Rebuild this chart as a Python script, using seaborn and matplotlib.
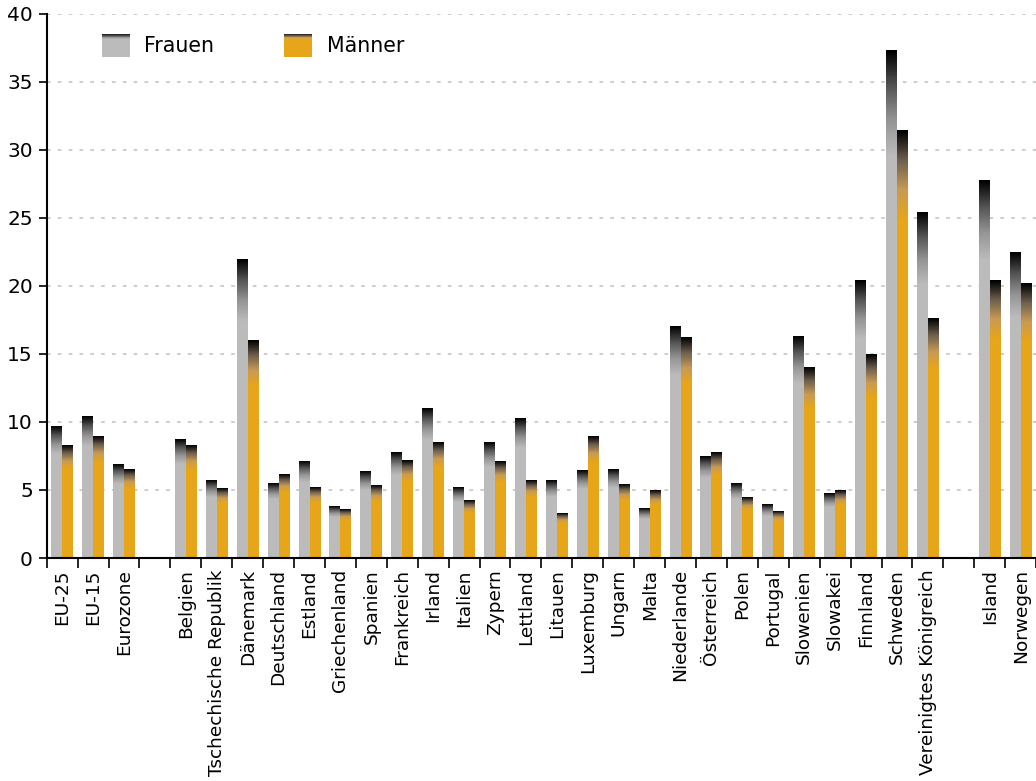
import numpy as np
import pandas as pd
import matplotlib
matplotlib.use("Agg")
import matplotlib.pyplot as plt
import seaborn as sns
from matplotlib.colors import LinearSegmentedColormap, to_rgb
from matplotlib.legend_handler import HandlerBase
from matplotlib.patches import Rectangle, Patch

# slot order, blank entries are the empty gaps in the chart
laender = ["EU-25", "EU-15", "Eurozone", " ",
           "Belgien", "Tschechische Republik", "Dänemark", "Deutschland",
           "Estland", "Griechenland", "Spanien", "Frankreich", "Irland",
           "Italien", "Zypern", "Lettland", "Litauen", "Luxemburg", "Ungarn",
           "Malta", "Niederlande", "Österreich", "Polen", "Portugal",
           "Slowenien", "Slowakei", "Finnland", "Schweden",
           "Vereinigtes Königreich", "  ", "Island", "Norwegen"]

laender_mit_daten = [l for l in laender if l.strip()]

frauen = [9.7, 10.4, 6.9,
          8.7, 5.7, 22.0, 5.5, 7.1, 3.8, 6.3, 7.7, 11.0, 5.2, 8.5, 10.2,
          5.7, 6.4, 6.5, 3.6, 17.0, 7.4, 5.5, 3.9, 16.3, 4.7, 20.4, 37.3, 25.4,
          27.7, 22.4]
maenner = [8.3, 8.9, 6.5,
           8.3, 5.1, 16.0, 6.1, 5.2, 3.5, 5.3, 7.2, 8.5, 4.2, 7.1, 5.7,
           3.3, 8.9, 5.4, 4.9, 16.2, 7.7, 4.5, 3.4, 14.0, 4.9, 15.0, 31.4, 17.6,
           20.4, 20.2]

farben = {"Frauen": "#BBBBBB", "Männer": "#E7A519"}

df = pd.DataFrame({
    "Land": laender_mit_daten * 2,
    "Geschlecht": ["Frauen"] * len(frauen) + ["Männer"] * len(maenner),
    "Wert": frauen + maenner,
})

# colour ramps for the dark bar tops
def ramp(base):
    b = np.array(to_rgb(base))
    if base == farben["Männer"]:
        stops = [b, np.array(to_rgb("#C89A55")), np.array(to_rgb("#6E604E")), np.zeros(3)]
    else:
        stops = [b, b * 0.8, b * 0.45, np.zeros(3)]
    return LinearSegmentedColormap.from_list("r", stops)

fig = plt.figure(figsize=(10.36, 7.81), dpi=100)
ax = fig.add_axes([0.0451, 0.2855, 0.955, 0.697])

sns.barplot(data=df, x="Land", y="Wert", hue="Geschlecht", order=laender,
            hue_order=["Frauen", "Männer"], palette=farben, width=0.71,
            gap=0, saturation=1, linewidth=0, legend=False, ax=ax)

xlim = (-0.5, 31.24)
ylim = (0, 40)

# gradient on the top ~21% of each bar
for p in list(ax.patches):
    h = p.get_height()
    if not np.isfinite(h) or h <= 0:
        continue
    x0, w = p.get_x(), p.get_width()
    fc = matplotlib.colors.to_hex(p.get_facecolor()).upper()
    cmap = ramp(fc)
    grad = np.linspace(0, 1, 64).reshape(-1, 1)
    ax.imshow(grad, cmap=cmap, extent=[x0, x0 + w, h * 0.79, h],
              origin="lower", aspect="auto", zorder=p.get_zorder() + 0.1,
              interpolation="bilinear")

ax.set_xlim(*xlim)
ax.set_ylim(*ylim)

ax.set_yticks(np.arange(0, 41, 5))
ax.yaxis.grid(True, linestyle=(0, (2, 4)), color="#c8c8c8", linewidth=1.3)
ax.set_axisbelow(True)

ax.set_xticks(range(len(laender)))
ax.set_xticklabels(laender, rotation=90, fontsize=13.3)
ax.set_xticks(np.arange(-0.5, len(laender), 1), minor=True)
ax.tick_params(axis="x", which="major", length=0, pad=8)
ax.tick_params(axis="x", which="minor", length=7, width=1.2, color="black")
ax.tick_params(axis="y", length=6, width=1.2, labelsize=14.5, pad=4)
ax.set_xlabel("")
ax.set_ylabel("")

for s in ["top", "right"]:
    ax.spines[s].set_visible(False)
for s in ["left", "bottom"]:
    ax.spines[s].set_linewidth(1.5)
    ax.spines[s].set_color("black")


class GradHandler(HandlerBase):
    def create_artists(self, legend, orig_handle, xdescent, ydescent,
                       width, height, fontsize, trans):
        base = orig_handle.get_facecolor()
        cmap = ramp(matplotlib.colors.to_hex(base).upper())
        arts = [Rectangle((-xdescent, -ydescent), width, height * 0.8,
                          facecolor=base, edgecolor="none", transform=trans)]
        n = 6
        for i in range(n):
            y = -ydescent + height * (0.8 + 0.2 * i / n)
            arts.append(Rectangle((-xdescent, y), width, height * 0.2 / n + 0.3,
                                  facecolor=cmap((i + 1) / n * 0.85),
                                  edgecolor="none", transform=trans))
        return arts


handles = [Patch(facecolor=farben["Frauen"], label="Frauen"),
           Patch(facecolor=farben["Männer"], label="Männer")]
ax.legend(handles=handles, handler_map={Patch: GradHandler()},
          loc="upper left", bbox_to_anchor=(0.037, 0.996), ncol=2,
          frameon=False, fontsize=14.8, handlelength=1.35, handleheight=1.3,
          handletextpad=0.72, columnspacing=3.4)

fig.savefig("out.png", dpi=100)
